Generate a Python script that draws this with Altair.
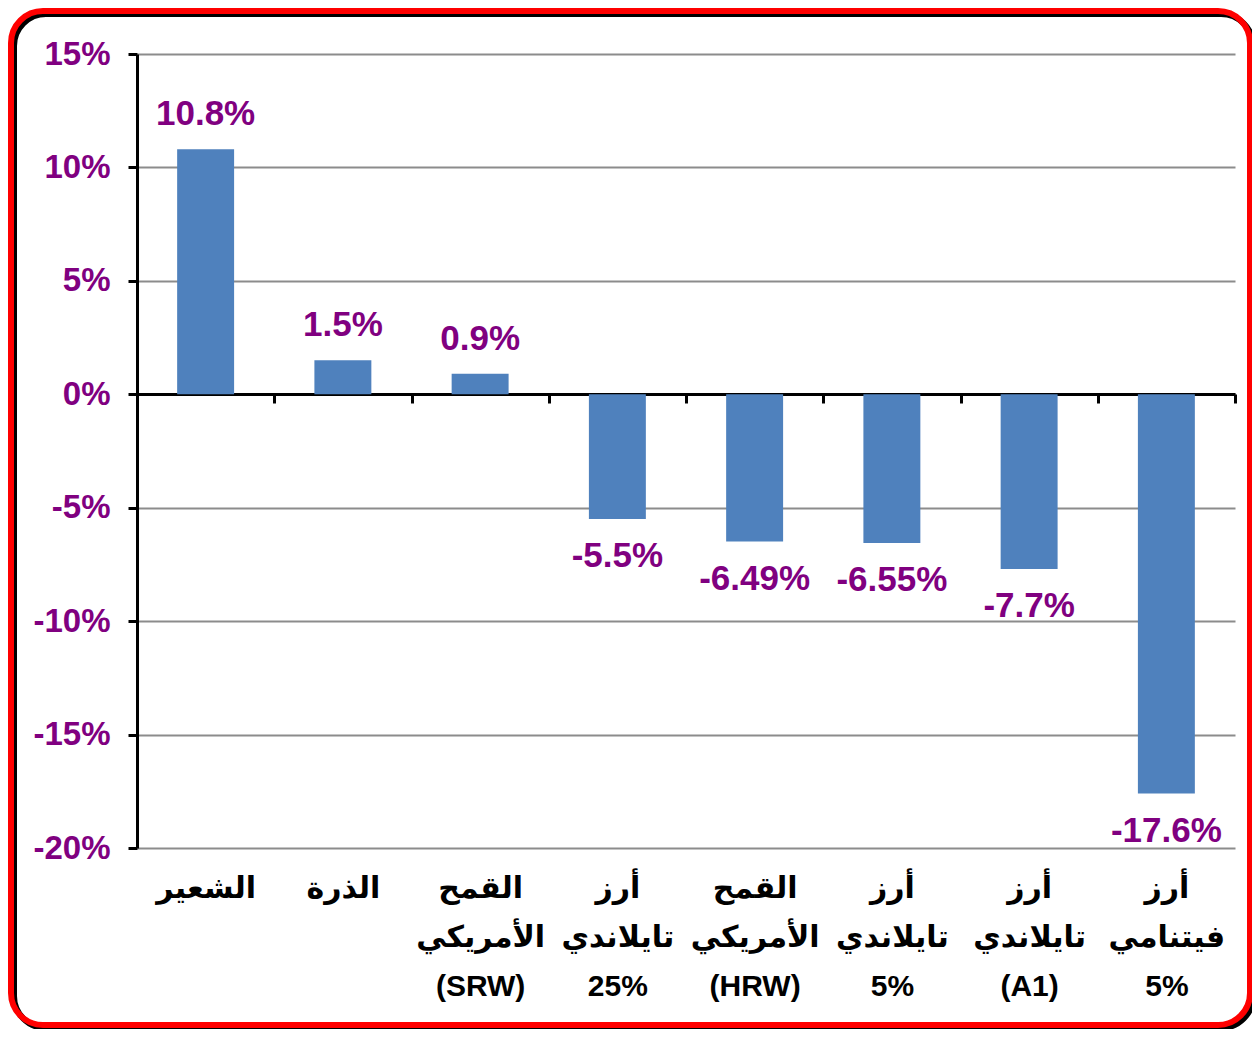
import altair as alt
import pandas as pd

categories = [
    "الشعير",
    "الذرة",
    "القمح|الأمريكي|(SRW)",
    "أرز|تايلاندي|25%",
    "القمح|الأمريكي|(HRW)",
    "أرز|تايلاندي|5%",
    "أرز|تايلاندي|(A1)",
    "أرز|فيتنامي|5%",
]
values = [10.8, 1.5, 0.9, -5.5, -6.49, -6.55, -7.7, -17.6]
y_ticks = [-20, -15, -10, -5, 0, 5, 10, 15]

df = pd.DataFrame({"cat": categories, "v": values})

FONT = "Arial, Liberation Sans, DejaVu Sans, sans-serif"
PURPLE = "#800080"

x_enc = alt.X(
    "cat:N",
    sort=None,
    scale=alt.Scale(paddingInner=0, paddingOuter=0),
    axis=alt.Axis(
        title=None,
        orient="bottom",
        offset=-454,
        domain=True,
        domainColor="black",
        domainWidth=3,
        ticks=True,
        tickBand="extent",
        tickColor="black",
        tickWidth=3,
        tickSize=9,
        grid=False,
        labelAngle=0,
        labelPadding=470,
        labelFont=FONT,
        labelFontSize=30,
        labelFontWeight="bold",
        labelColor="black",
        labelLineHeight=49,
        labelOverlap=False,
        labelLimit=300,
        labelExpr="split(datum.label, '|')",
    ),
)

y_enc = alt.Y(
    "v:Q",
    scale=alt.Scale(domain=[-20, 15], nice=False, zero=True),
    axis=alt.Axis(
        title=None,
        values=y_ticks,
        domain=True,
        domainColor="black",
        domainWidth=3,
        ticks=True,
        tickColor="black",
        tickWidth=3,
        tickSize=9,
        grid=True,
        gridColor="#8c8c8c",
        gridWidth=2,
        labelPadding=18,
        labelFont=FONT,
        labelFontSize=33,
        labelFontWeight="bold",
        labelColor=PURPLE,
        labelExpr="datum.value + '%'",
    ),
)

base = alt.Chart(df)

bars = base.mark_bar(color="#4F81BD", width=alt.RelativeBandSize(0.415)).encode(
    x=x_enc, y=y_enc
)

pos_text = (
    base.transform_filter("datum.v >= 0")
    .transform_calculate(lbl="toString(datum.v) + '%'")
    .mark_text(
        font=FONT, fontSize=35, fontWeight="bold", color=PURPLE,
        baseline="alphabetic", dy=-24,
    )
    .encode(x=alt.X("cat:N", sort=None), y="v:Q", text="lbl:N")
)

neg_text = (
    base.transform_filter("datum.v < 0")
    .transform_calculate(lbl="toString(datum.v) + '%'")
    .mark_text(
        font=FONT, fontSize=35, fontWeight="bold", color=PURPLE,
        baseline="top", dy=20,
    )
    .encode(x=alt.X("cat:N", sort=None), y="v:Q", text="lbl:N")
)

frame_df = pd.DataFrame({"k": [0]})
shadow = alt.Chart(frame_df).mark_rect(
    filled=False, stroke="black", strokeWidth=6, cornerRadius=32
).encode(
    x=alt.value(-123), x2=alt.value(1116), y=alt.value(-40), y2=alt.value(974)
)
border = alt.Chart(frame_df).mark_rect(
    filled=False, stroke="#ff0000", strokeWidth=6, cornerRadius=32
).encode(
    x=alt.value(-126), x2=alt.value(1113), y=alt.value(-43), y2=alt.value(971)
)

chart = (
    alt.layer(shadow, border, bars, pos_text, neg_text)
    .properties(
        width=1098,
        height=794,
        autosize=alt.AutoSizeParams(type="none"),
        padding={"left": 129, "top": 46, "right": 17, "bottom": 181},
        background="white",
    )
    .configure_view(strokeWidth=0)
)

chart.save("out.html", embed_options={"renderer": "svg", "actions": False})
